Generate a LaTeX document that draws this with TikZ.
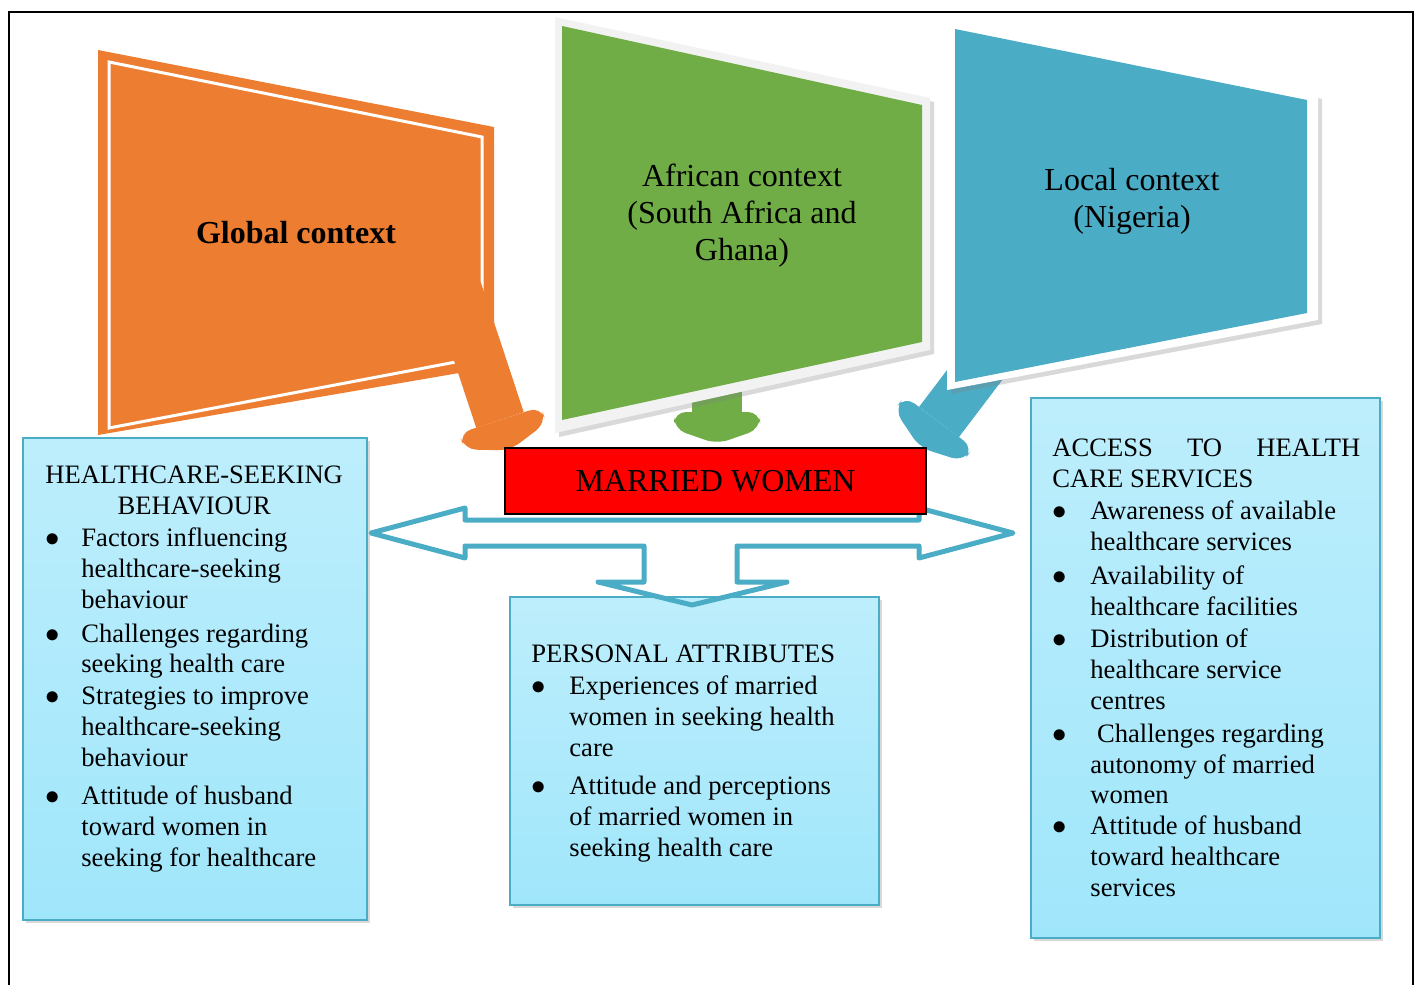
\documentclass[tikz,border=0pt]{standalone}
\usepackage{fontspec}
\setmainfont{Liberation Serif}
\usetikzlibrary{shadows}

\definecolor{ctxorange}{HTML}{ED7D31}
\definecolor{ctxgreen}{HTML}{70AD47}
\definecolor{ctxblue}{HTML}{4BACC6}
\definecolor{ctxrim}{HTML}{F2F2F2}
\definecolor{boxtop}{HTML}{BDEEFC}
\definecolor{boxbot}{HTML}{A0E6FB}

% rounded head of the callout arrows
\newcommand{\calhead}[3]{%
  \fill[#1, rounded corners=6pt, shift={#2}, rotate=#3]
    (-43,0) -- (43,0) -- (43,17) -- (0,32) -- (-43,17) -- cycle;}
\newcommand{\bul}{$\bullet$}
% outline of the three-way block arrow
\newcommand{\blockarrow}{(371,533) -- (465,508) -- (465,520) -- (919,520) -- (919,508) -- (1013,533)
    -- (919,558) -- (919,546) -- (737,546) -- (737,582) -- (787,582) -- (692,605)
    -- (598,582) -- (644,582) -- (644,546) -- (465,546) -- (465,558) -- cycle}

\tikzset{
  ctxlabel/.style={align=center, font=\fontsize{16}{18.5}\selectfont},
  ctxshadow/.style={drop shadow={shadow xshift=2pt, shadow yshift=-2pt, opacity=0.3}},
  stem/.style={line width=25pt, draw=#1},
  infobox/.style={draw=ctxblue, line width=1pt, top color=boxtop, bottom color=boxbot,
    inner sep=0pt, drop shadow={shadow xshift=1.5pt, shadow yshift=-1.5pt, opacity=0.3}},
  listtext/.style={anchor=north west, inner sep=0pt, align=left,
    font=\fontsize{13.3}{15.4}\selectfont}
}

\begin{document}
\begin{tikzpicture}[x=0.5pt, y=-0.5pt]
  \useasboundingbox (0,0) rectangle (1418,985);
  \draw[line width=1pt] (9,985) -- (9,12) -- (1413,12) -- (1413,985);

  % global context
  \fill[ctxorange] (98,50) -- (494,127) -- (494,367) -- (98,435) -- cycle;
  \draw[white, line width=1.5pt] (109,62) -- (482,137) -- (482,357) -- (109,428) -- cycle;
  \coordinate (ostemtop) at (457,290);
  \coordinate (ostemend) at (500,420);
  \draw[stem=ctxorange] (ostemtop) -- (ostemend);
  \calhead{ctxorange}{(ostemend)}{18}
  \node[ctxlabel, font=\fontsize{16}{18.5}\selectfont\bfseries] (global) at (296,233) {Global context};

  % african context
  \coordinate (gstemtop) at (717,370);
  \coordinate (gstemend) at (717,412);
  \draw[stem=ctxgreen] (gstemtop) -- (gstemend);
  \calhead{ctxgreen}{(gstemend)}{0}
  \fill[ctxrim, ctxshadow] (555,17) -- (930,98) -- (930,350) -- (555,433) -- cycle;
  \fill[ctxgreen] (562,26) -- (922,105) -- (922,342) -- (562,420) -- cycle;
  \node[ctxlabel] (african) at (742,216) {African context\\(South Africa and\\Ghana)};

  % local context
  \coordinate (bstemtop) at (986,360);
  \coordinate (bstemend) at (939,422);
  \draw[stem=ctxblue] (bstemtop) -- (bstemend);
  \calhead{ctxblue}{(bstemend)}{-37}
  \fill[white, ctxshadow] (947,20) -- (1318,95) -- (1318,320) -- (947,390) -- cycle;
  \fill[ctxblue] (955,29) -- (1307,100) -- (1307,313) -- (955,382) -- cycle;
  \node[ctxlabel] (local) at (1132,201) {Local context\\(Nigeria)};

  % three-way block arrow
  \fill[white] \blockarrow;

  % boxes
  \node[infobox, minimum width=172pt, minimum height=241pt] (hsb) at (195,679) {};
  \node[infobox, minimum width=184.5pt, minimum height=154pt] (pa) at (694.5,751) {};
  \node[infobox, minimum width=174.5pt, minimum height=270pt] (acc) at (1205.5,668) {};

  \draw[ctxblue, line width=2.5pt, line join=round] \blockarrow;

  \node[draw=black, line width=1pt, fill=red, minimum width=210.5pt, minimum height=33pt,
    font=\fontsize{16}{18}\selectfont] (married) at (715.5,481) {MARRIED WOMEN};

  \node[listtext] (hsbtext) at (45,462) {%
    \begin{tabular}{@{}p{18pt}@{}l@{}}
      \multicolumn{2}{@{}c@{}}{HEALTHCARE-SEEKING}\\
      \multicolumn{2}{@{}c@{}}{BEHAVIOUR}\\[0.5pt]
      \bul & Factors influencing\\
           & healthcare-seeking\\
           & behaviour\\[1.6pt]
      \bul & Challenges regarding\\
           & seeking health care\\[0.6pt]
      \bul & Strategies to improve\\
           & healthcare-seeking\\
           & behaviour\\[3.6pt]
      \bul & Attitude of husband\\
           & toward women in\\
           & seeking for healthcare
    \end{tabular}};

  \node[listtext] (patext) at (531,641) {%
    \begin{tabular}{@{}p{19pt}@{}l@{}}
      \multicolumn{2}{@{}l@{}}{PERSONAL ATTRIBUTES}\\[0.6pt]
      \bul & Experiences of married\\
           & women in seeking health\\
           & care\\[3.6pt]
      \bul & Attitude and perceptions\\
           & of married women in\\
           & seeking health care
    \end{tabular}};

  \node[listtext] (acctext) at (1052,435) {%
    \begin{tabular}{@{}p{19pt}@{}l@{}}
      \multicolumn{2}{@{}l@{}}{\makebox[154pt][l]{ACCESS\hfill TO\hfill HEALTH}}\\
      \multicolumn{2}{@{}l@{}}{CARE SERVICES}\\[0.5pt]
      \bul & Awareness of available\\
           & healthcare services\\[1.6pt]
      \bul & Availability of\\
           & healthcare facilities\\[1pt]
      \bul & Distribution of\\
           & healthcare service\\
           & centres\\[1pt]
      \bul & \ Challenges regarding\\
           & autonomy of married\\
           & women\\
      \bul & Attitude of husband\\
           & toward healthcare\\
           & services
    \end{tabular}};
\end{tikzpicture}
\end{document}
